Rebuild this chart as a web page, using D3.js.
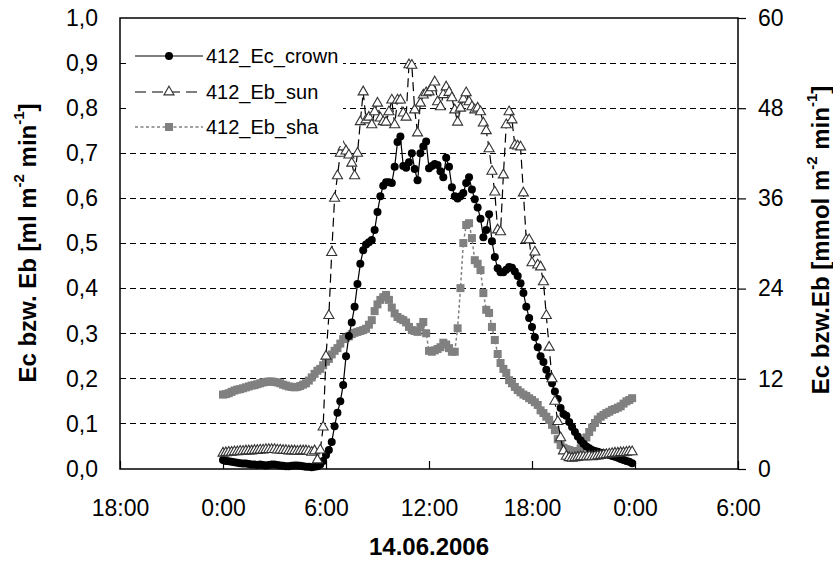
<!DOCTYPE html>
<html><head><meta charset="utf-8">
<script src="https://cdn.jsdelivr.net/npm/d3@7"></script>
<style>
body{margin:0;background:#fff}
svg{display:block}
text{font-family:"Liberation Sans",Arial,Helvetica,sans-serif;fill:#000}
</style>
</head><body>
<svg id="chart" width="833" height="563"></svg>
<script>
// ---- data (14.06.2006, 10-minute samples starting 0:00) ----
const firstSampleHour = 0;
const stepMinutes = 10;
const seriesNames = ["412_Ec_crown", "412_Eb_sun", "412_Eb_sha"];
const ecCrown = [
0.020,0.018,0.017,0.016,0.015,0.014,0.013,0.012,0.012,0.011,0.010,0.010,
0.009,0.010,0.009,0.008,0.009,0.010,0.010,0.009,0.008,0.007,0.006,0.006,
0.007,0.008,0.008,0.007,0.006,0.005,0.005,0.004,0.005,0.006,0.010,0.018,
0.031,0.042,0.060,0.095,0.125,0.150,0.186,0.250,0.295,0.325,0.360,0.410,
0.455,0.485,0.498,0.503,0.508,0.530,0.570,0.605,0.628,0.636,0.636,0.634,
0.670,0.725,0.737,0.672,0.668,0.680,0.700,0.665,0.640,0.700,0.715,0.726,
0.667,0.672,0.676,0.674,0.660,0.647,0.690,0.670,0.625,0.605,0.600,0.605,
0.612,0.634,0.647,0.620,0.598,0.580,0.555,0.514,0.530,0.565,0.505,0.470,
0.445,0.436,0.436,0.442,0.448,0.446,0.438,0.428,0.412,0.390,0.360,0.335,
0.315,0.292,0.270,0.250,0.237,0.220,0.205,0.190,0.172,0.155,0.135,0.122,
0.118,0.104,0.093,0.082,0.072,0.063,0.056,0.050,0.046,0.042,0.040,0.038,
0.036,0.035,0.033,0.031,0.029,0.027,0.025,0.022,0.020,0.018,0.016,0.013];
const ebSun = [
0.035,0.036,0.037,0.037,0.038,0.038,0.039,0.039,0.040,0.040,0.040,0.041,
0.041,0.042,0.042,0.043,0.043,0.043,0.043,0.042,0.042,0.041,0.041,0.040,
0.040,0.040,0.039,0.040,0.040,0.040,0.039,0.037,0.040,0.020,0.042,0.093,
0.250,0.340,0.480,0.600,0.650,0.700,0.714,0.705,0.696,0.678,0.650,0.700,
0.770,0.836,0.774,0.780,0.763,0.792,0.811,0.778,0.770,0.769,0.792,0.818,
0.763,0.818,0.818,0.789,0.780,0.896,0.895,0.796,0.745,0.811,0.829,0.834,
0.836,0.845,0.858,0.814,0.803,0.830,0.847,0.835,0.823,0.796,0.769,0.800,
0.820,0.834,0.814,0.803,0.796,0.800,0.792,0.767,0.750,0.710,0.660,0.614,
0.530,0.526,0.652,0.763,0.792,0.774,0.718,0.716,0.714,0.612,0.508,0.508,
0.457,0.481,0.452,0.448,0.415,0.340,0.270,0.200,0.150,0.105,0.069,0.040,
0.028,0.025,0.024,0.025,0.026,0.027,0.027,0.027,0.028,0.027,0.028,0.029,
0.030,0.031,0.032,0.033,0.034,0.035,0.035,0.036,0.036,0.037,0.038,0.038];
const ebSha = [
0.165,0.166,0.168,0.171,0.174,0.176,0.177,0.179,0.181,0.183,0.185,0.186,
0.188,0.190,0.192,0.193,0.194,0.194,0.193,0.192,0.190,0.187,0.185,0.183,
0.182,0.181,0.182,0.184,0.187,0.190,0.196,0.203,0.211,0.218,0.222,0.230,
0.238,0.244,0.254,0.262,0.268,0.278,0.288,0.291,0.294,0.299,0.302,0.304,
0.306,0.308,0.311,0.320,0.330,0.350,0.365,0.375,0.381,0.386,0.375,0.358,
0.345,0.337,0.333,0.330,0.325,0.315,0.308,0.306,0.304,0.315,0.326,0.301,
0.262,0.260,0.263,0.266,0.270,0.280,0.276,0.268,0.260,0.260,0.312,0.401,
0.501,0.541,0.545,0.512,0.463,0.455,0.441,0.390,0.353,0.346,0.315,0.286,
0.255,0.235,0.222,0.213,0.197,0.190,0.182,0.175,0.170,0.165,0.162,0.157,
0.153,0.148,0.142,0.130,0.124,0.116,0.109,0.098,0.086,0.066,0.053,0.047,
0.044,0.042,0.040,0.038,0.040,0.046,0.058,0.070,0.082,0.092,0.102,0.110,
0.116,0.120,0.124,0.127,0.131,0.133,0.136,0.139,0.145,0.150,0.153,0.157];
const xTickHours = [-6, 0, 6, 12, 18, 24, 30];
const xTickLabels = ["18:00", "0:00", "6:00", "12:00", "18:00", "0:00", "6:00"];
const yLeftTicks = [0, 0.1, 0.2, 0.3, 0.4, 0.5, 0.6, 0.7, 0.8, 0.9, 1.0];
const yLeftLabels = ["0,0","0,1","0,2","0,3","0,4","0,5","0,6","0,7","0,8","0,9","1,0"];
const yRightTicks = [0, 12, 24, 36, 48, 60];
const yRightLabels = ["0","12","24","36","48","60"];
const gridValues = [0.1,0.2,0.3,0.4,0.5,0.6,0.7,0.8,0.9];
const xTitle = "14.06.2006";

// ---- layout ----
const L = 120, R = 738, T = 18, B = 469;
const svg = d3.select("#chart");
const x = d3.scaleLinear().domain([-6, 30]).range([L, R]);
const yL = d3.scaleLinear().domain([0, 1]).range([B, T]);
const yR = d3.scaleLinear().domain([0, 60]).range([B, T]);
const hourOf = i => firstSampleHour + i * stepMinutes / 60;

// gridlines
svg.append("g").selectAll("line").data(gridValues).join("line")
  .attr("x1", L).attr("x2", R).attr("y1", d => yL(d)).attr("y2", d => yL(d))
  .attr("stroke", "#000").attr("stroke-width", 1).attr("stroke-dasharray", "6,4")
  .attr("shape-rendering", "crispEdges");

// axes
const fs = 23;
const gL = svg.append("g").attr("transform", `translate(${L},0)`)
  .call(d3.axisLeft(yL).tickValues(yLeftTicks).tickFormat((d,i)=>yLeftLabels[i]).tickSize(0).tickPadding(22));
const gR = svg.append("g").attr("transform", `translate(${R},0)`)
  .call(d3.axisRight(yR).tickValues(yRightTicks).tickFormat((d,i)=>yRightLabels[i]).tickSize(8).tickPadding(12));
const gB = svg.append("g").attr("transform", `translate(0,${B})`)
  .call(d3.axisBottom(x).tickValues(xTickHours).tickFormat((d,i)=>xTickLabels[i]).tickSize(-8).tickPadding(31));
[gL, gR, gB].forEach(g => {
  g.select(".domain").remove();
  g.selectAll("text").attr("font-size", fs).attr("font-family", '"Liberation Sans",Arial,sans-serif').attr("fill","#000");
  g.selectAll("line").attr("stroke", "#000").attr("stroke-width", 1.2);
});

// frame
svg.append("rect").attr("x", L).attr("y", T).attr("width", R - L).attr("height", B - T)
  .attr("fill", "none").attr("stroke", "#000").attr("stroke-width", 1.5);

// series
const line = d3.line().x((d, i) => x(hourOf(i))).y(d => yL(d));
const gS = svg.append("g");
const sq = 8, cr = 4;

// Eb_sha (grey squares, dotted)
gS.append("path").datum(ebSha).attr("d", line).attr("fill", "none")
  .attr("stroke", "#808080").attr("stroke-width", 1.5).attr("stroke-dasharray", "3,2.5");
gS.append("g").selectAll("rect").data(ebSha).join("rect")
  .attr("x", (d, i) => x(hourOf(i)) - sq / 2).attr("y", d => yL(d) - sq / 2)
  .attr("width", sq).attr("height", sq).attr("fill", "#808080");

// Ec_crown (black circles, solid)
gS.append("path").datum(ecCrown).attr("d", line).attr("fill", "none")
  .attr("stroke", "#000").attr("stroke-width", 1.2);
gS.append("g").selectAll("circle").data(ecCrown).join("circle")
  .attr("cx", (d, i) => x(hourOf(i))).attr("cy", d => yL(d)).attr("r", cr).attr("fill", "#000");

// Eb_sun (open triangles, dashed)
const tri = d3.symbol().type(d3.symbolTriangle).size(44);
gS.append("path").datum(ebSun).attr("d", line).attr("fill", "none")
  .attr("stroke", "#000").attr("stroke-width", 1.2).attr("stroke-dasharray", "9,5");
gS.append("g").selectAll("path").data(ebSun).join("path")
  .attr("d", tri).attr("transform", (d, i) => `translate(${x(hourOf(i))},${yL(d)})`)
  .attr("fill", "#fff").attr("stroke", "#333").attr("stroke-width", 1.1);

// legend
const lg = svg.append("g");
lg.append("rect").attr("x", 128).attr("y", 38).attr("width", 215).attr("height", 108).attr("fill", "#fff");
const rowsY = [56, 92, 127];
const lx1 = 135, lx2 = 203, lm = 169;
// crown
lg.append("line").attr("x1", lx1).attr("x2", lx2).attr("y1", rowsY[0]).attr("y2", rowsY[0]).attr("stroke", "#000").attr("stroke-width", 1.2);
lg.append("circle").attr("cx", lm).attr("cy", rowsY[0]).attr("r", cr).attr("fill", "#000");
// sun
lg.append("line").attr("x1", lx1).attr("x2", lx2).attr("y1", rowsY[1]).attr("y2", rowsY[1]).attr("stroke", "#000").attr("stroke-width", 1.2).attr("stroke-dasharray", "11,6");
lg.append("path").attr("d", tri).attr("transform", `translate(${lm},${rowsY[1]})`).attr("fill", "#fff").attr("stroke", "#333").attr("stroke-width", 1.1);
// sha
lg.append("line").attr("x1", lx1).attr("x2", lx2).attr("y1", rowsY[2]).attr("y2", rowsY[2]).attr("stroke", "#808080").attr("stroke-width", 1.5).attr("stroke-dasharray", "3,2.5");
lg.append("rect").attr("x", lm - sq / 2).attr("y", rowsY[2] - sq / 2).attr("width", sq).attr("height", sq).attr("fill", "#808080");
lg.selectAll("text.lt").data(seriesNames).join("text").attr("class", "lt")
  .attr("x", 206).attr("y", (d, i) => rowsY[i]).attr("dy", "0.35em").attr("font-size", 20).text(d => d);

// axis titles
svg.append("text").attr("x", (L + R) / 2).attr("y", 555).attr("text-anchor", "middle")
  .attr("font-size", 24).attr("font-weight", "bold").text(xTitle);

function rotTitle(cx, cy, parts) {
  const t = svg.append("text").attr("transform", `translate(${cx},${cy}) rotate(-90)`)
    .attr("text-anchor", "middle").attr("dominant-baseline", "central")
    .attr("font-size", 24).attr("font-weight", "bold");
  parts.forEach(p => {
    const ts = t.append("tspan").text(p.t);
    if (p.sup) ts.attr("font-size", 15).attr("dy", -9);
    else if (p.after) ts.attr("dy", 9);
  });
}
rotTitle(27, 243, [{t:"Ec bzw. Eb [ml m"},{t:"-2",sup:true},{t:" min",after:true},{t:"-1",sup:true},{t:"]",after:true}]);
rotTitle(820, 240, [{t:"Ec bzw.Eb [mmol m"},{t:"-2",sup:true},{t:" min",after:true},{t:"-1",sup:true},{t:"]",after:true}]);
</script>
</body></html>
